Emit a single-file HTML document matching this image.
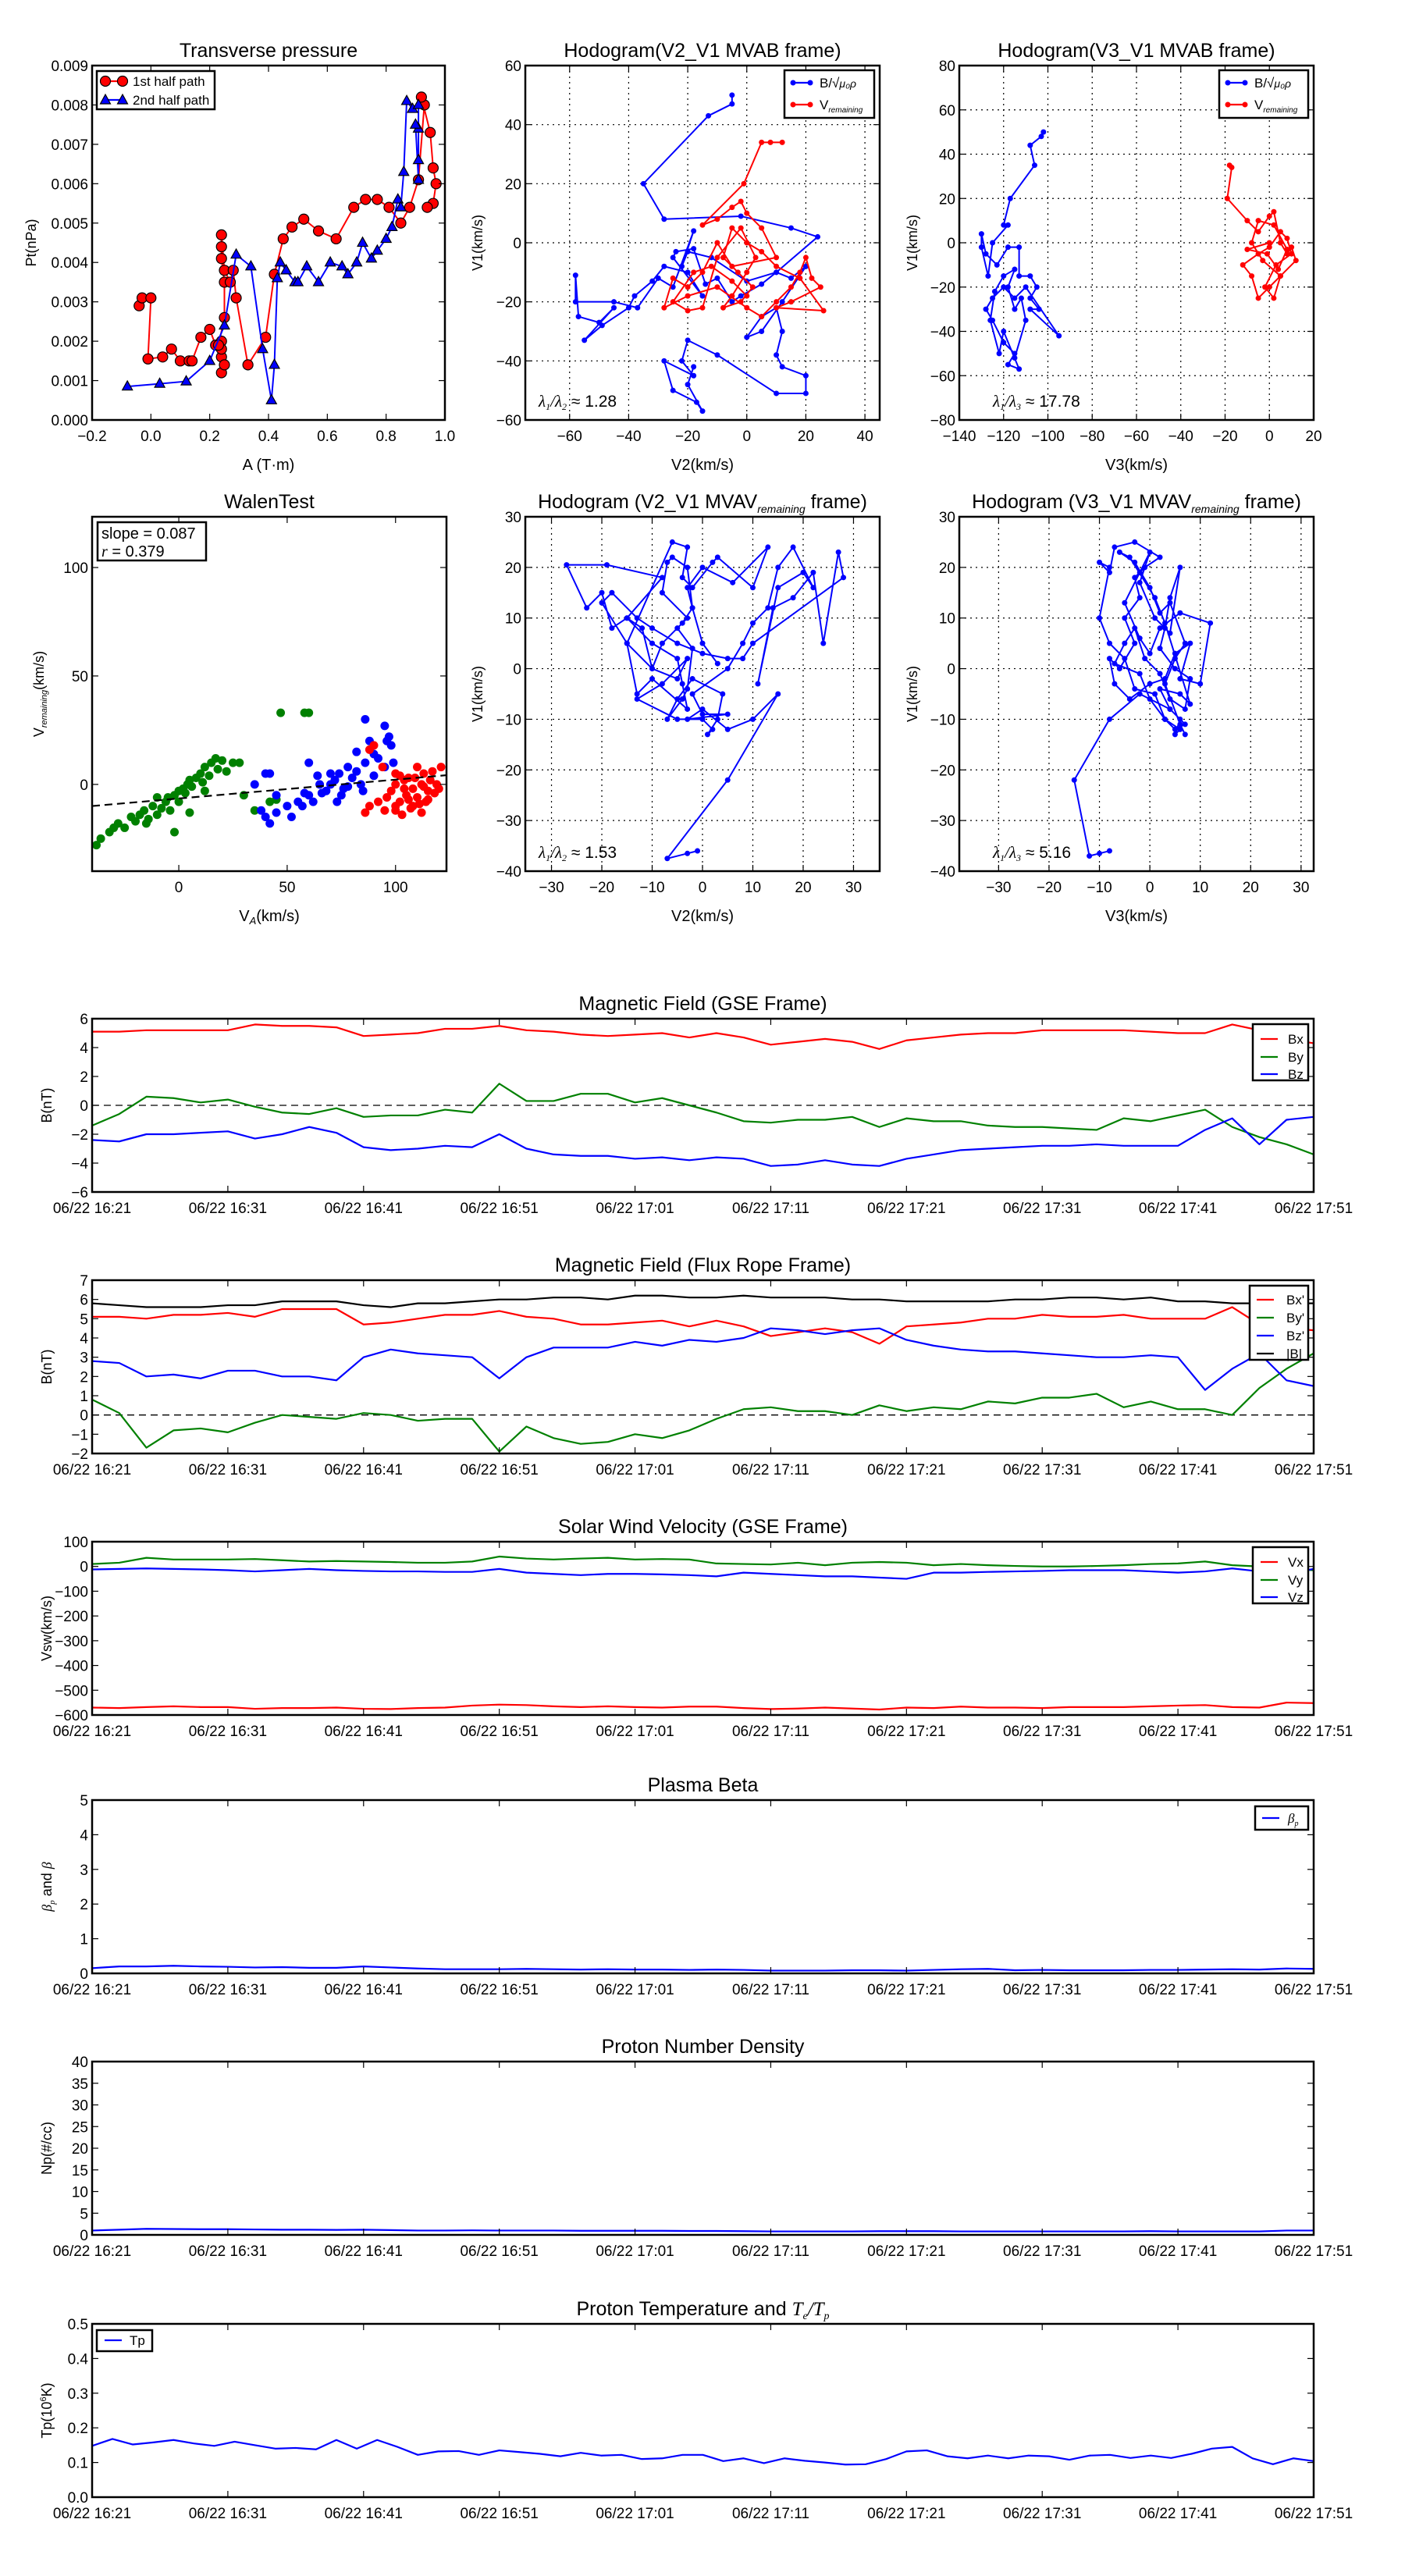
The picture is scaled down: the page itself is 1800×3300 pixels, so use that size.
<!DOCTYPE html>
<html><head><meta charset="utf-8">
<style>
html,body{margin:0;padding:0;background:#fff;}
svg{display:block;font-family:"Liberation Sans",sans-serif;}
text{fill:#000;}
</style></head>
<body>
<svg id="fig" width="1800" height="3300" viewBox="0 0 1800 3300" xmlns="http://www.w3.org/2000/svg">
<rect width="1800" height="3300" fill="#fff"/>
</svg>
<script>
// ---------- Transverse pressure ----------
const tp1A=[-0.04,-0.03,0.0,-0.01,0.04,0.07,0.1,0.13,0.14,0.17,0.2,0.22,0.24,0.24,0.24,0.25,0.24,0.23,0.25,0.25,0.24,0.24,0.24,0.25,0.27,0.28,0.29,0.33,0.39,0.42,0.45,0.48,0.52,0.57,0.63,0.69,0.73,0.77,0.81,0.85,0.88,0.91,0.93,0.92,0.95,0.96,0.97,0.96,0.94];
const tp1P=[0.0029,0.0031,0.0031,0.00155,0.0016,0.0018,0.0015,0.0015,0.0015,0.0021,0.0023,0.0019,0.0020,0.0016,0.0012,0.0014,0.0018,0.0019,0.0026,0.0035,0.0041,0.0044,0.0047,0.0038,0.0035,0.0038,0.0031,0.0014,0.0021,0.0037,0.0046,0.0049,0.0051,0.0048,0.0046,0.0054,0.0056,0.0056,0.0054,0.0050,0.0054,0.0061,0.0080,0.0082,0.0073,0.0064,0.0060,0.0055,0.0054];
const tp2A=[-0.08,0.03,0.12,0.2,0.25,0.29,0.34,0.38,0.41,0.42,0.43,0.44,0.46,0.49,0.5,0.53,0.57,0.61,0.65,0.67,0.70,0.72,0.75,0.77,0.80,0.82,0.84,0.85,0.86,0.87,0.89,0.91,0.91,0.91,0.91,0.9];
const tp2P=[0.00085,0.00092,0.00098,0.0015,0.0024,0.0042,0.0039,0.0018,0.0005,0.0014,0.0036,0.0040,0.0038,0.0035,0.0035,0.0039,0.0035,0.0040,0.0039,0.0037,0.0040,0.0045,0.0041,0.0043,0.0046,0.0049,0.0056,0.0054,0.0063,0.0081,0.0079,0.0080,0.0074,0.0066,0.0061,0.0075];
// ---------- Hodogram V2_V1 MVAB ----------
const h1bV2=[-5,-5,-13,-35,-28,-2,15,24,10,0,-12,-20,-22,-18,-25,-30,-37,-45,-58,-58,-57,-50,-45,-55,-49,-40,-38,-32,-28,-20,-15,-25,-24,-18,-14,-10,-5,-2,5,10,15,20,12,5,0,5,10,12,10,12,20,20,10,-10,-20,-22,-18,-28,-25,-17,-15,-20,-18];
const h1bV1=[50,47,43,20,8,9,5,2,-10,-13,-5,-3,-8,4,-15,-12,-22,-20,-20,-11,-25,-27,-22,-33,-28,-22,-18,-13,-8,-10,-18,-5,-3,-2,-14,-12,-20,-18,-14,-10,-12,-8,-20,-30,-32,-25,-22,-30,-38,-42,-45,-51,-51,-38,-33,-40,-45,-40,-50,-54,-57,-48,-42];
const h1rV2=[12,8,5,-1,-15,-10,-5,-2,0,5,10,-5,-10,-15,-20,-25,-28,-20,-10,0,5,10,15,18,20,22,25,15,10,26,18,10,5,0,-5,-8,-3,2,-2,-8,-5,0,3,-2,-10,-15,-20,-25,-18,-12,-5,0];
const h1rV1=[34,34,34,20,6,8,12,14,10,5,-5,-8,0,-10,-15,-12,-22,-18,-15,-22,-25,-20,-15,-10,-5,-12,-15,-20,-22,-23,-12,-8,-3,0,5,-5,-10,-15,-20,-22,-18,-10,-5,5,-5,-22,-23,-20,-10,-8,-13,-18];
// ---------- Hodogram V3_V1 MVAB ----------
const h2bV3=[-102,-103,-108,-106,-117,-120,-118,-125,-127,-130,-130,-128,-123,-118,-113,-113,-108,-105,-108,-104,-108,-95,-110,-115,-120,-125,-128,-125,-120,-115,-118,-113,-120,-122,-126,-124,-120,-115,-118,-115,-112,-110,-115];
const h2bV1=[50,48,44,35,20,8,8,0,-15,-2,4,-5,-10,-2,-2,-15,-15,-20,-25,-30,-30,-42,-20,-25,-20,-25,-30,-35,-45,-50,-55,-57,-40,-50,-35,-22,-15,-12,-20,-30,-25,-35,-52];
const h2rV3=[-18,-17,-19,-10,-5,0,2,5,8,10,12,5,0,-5,-8,-12,-5,0,5,8,10,3,-2,2,5,-3,-8,-5,2,8,4,-1,-10,0];
const h2rV1=[35,34,20,10,5,12,14,0,-5,-2,-8,-15,-20,-25,-15,-10,-5,-2,5,2,-5,-10,-20,-25,-15,-8,0,10,8,-3,-12,-5,-3,0];
// ---------- Walen test ----------
const wgVA=[-38,-36,-32,-30,-28,-25,-22,-20,-18,-16,-15,-14,-12,-10,-8,-6,-5,-4,-2,0,0,2,3,4,5,6,8,10,11,12,14,15,17,18,20,22,25,28,30,35,42,45,47,58,60,-2,5,12,-10];
const wgV=[-28,-25,-22,-20,-18,-20,-15,-17,-14,-12,-18,-16,-10,-14,-11,-8,-6,-12,-5,-3,-8,-2,-4,0,2,-1,3,5,1,8,4,10,12,7,11,6,10,10,-5,-12,-8,-7,33,33,33,-22,-13,-3,-6];
const wbVA=[35,40,42,45,38,40,42,45,50,52,55,57,60,62,58,65,68,70,72,74,75,76,78,80,82,84,85,86,88,90,92,95,96,98,99,86,95,97,70,66,73,78,60,64,82,90];
const wbV=[0,5,5,-5,-12,-15,-18,-13,-10,-15,-8,-10,-5,-8,-4,0,-3,0,2,5,-5,-2,8,3,6,0,-3,10,20,4,12,8,20,18,10,30,27,22,5,-4,-8,-1,10,4,15,14];
const wrVA=[86,88,92,95,96,98,100,100,102,103,104,105,106,108,108,110,110,112,113,114,115,116,118,119,120,121,100,104,106,109,111,113,115,117,102,90,88,94,100,107,112];
const wrV=[-13,-10,-8,-12,-6,-3,0,5,-8,-14,2,-5,3,-2,-10,8,-6,0,5,-8,-3,2,-4,0,-2,8,-10,-2,-7,3,-9,-1,-7,6,4,18,16,8,-12,-11,-13];
const walenSlope=0.087, walenIntercept=-6.5;
// ---------- Hodogram MVAV ----------
const h3V2=[-1,-3,-7,5,15,10,5,0,-3,5,0,-2,5,8,10,13,15,18,22,20,15,11,14,18,22,24,27,28,10,8,5,0,-5,-10,-13,-18,-20,-15,-10,-5,-3,-8,-13,-5,0,2,1,3,4,-2,-5,-7,-4,-3,-2,-5,-3,-8,-7,-6,-3,-2,-4,-8,-10,-12,-15,-18,-20,-23,-27,-19,-8,-15,-10,-5,-4,-3,-10,-13,-15,-6,-3,-4,-2,2,3,10,13,6,0,-3,-2,0,3];
const h3V1=[-36,-36.5,-37.5,-22,-5,-10,-12,-8,-10,-9,-9,-5,0,5,9,12,20,24,16,19,16,-3,12,14,19,5,23,18,5,2,2,3,5,8,10,15,13,5,0,-2,2,-3,-6,-10,-10,-12,-13,-10,-5,-2,-6,-10,-6,-4,4,8,10,15,21,22,20,12,9,5,0,8,10,8,15,12,20.5,20.5,18,10,5,2,-3,-8,-2,-5,5,25,24,18,16,21,22,16,24,17,20,16,12,5,1];
const h4V3=[-8,-10,-12,-15,-8,-2,4,6,5,6,3,1,-3,-5,-8,-10,-8,-10,-8,-7,-3,2,-1,-3,-2,-5,-3,-6,-8,-7,-4,0,3,5,8,6,10,12,6,2,0,-2,-5,-2,0,-2,1,4,6,4,3,2,5,8,7,4,2,-1,-3,-5,-7,-2,0,3,5,7,4,2,6,8,3,1,-4,-6,-3,0,2,4,7,5,3,6,7];
const h4V1=[-36,-36.5,-37,-22,-10,-5,-8,-10,-13,-12,-10,-5,-4,2,5,10,20,21,19,24,25,22,20,18,14,10,5,0,2,-3,-6,-3,-2,3,5,-2,-3,9,11,8,3,6,13,19,23,17,10,7,20,14,8,4,0,-2,-8,-6,-1,2,8,5,1,-1,-6,-10,-12,-11,-8,-4,-5,-7,9,14,22,23,21,16,11,13,5,2,-3,-11,-13];
// ---------- Time series (2-minute cadence, minutes after 16:21) ----------
const tsTicks=['06/22 16:21','06/22 16:31','06/22 16:41','06/22 16:51','06/22 17:01','06/22 17:11','06/22 17:21','06/22 17:31','06/22 17:41','06/22 17:51'];
const gseBx=[5.1,5.1,5.2,5.2,5.2,5.2,5.6,5.5,5.5,5.4,4.8,4.9,5.0,5.3,5.3,5.5,5.2,5.1,4.9,4.8,4.9,5.0,4.7,5.0,4.7,4.2,4.4,4.6,4.4,3.9,4.5,4.7,4.9,5.0,5.0,5.2,5.2,5.2,5.2,5.1,5.0,5.0,5.6,5.2,4.6,4.3];
const gseBy=[-1.4,-0.6,0.6,0.5,0.2,0.4,-0.1,-0.5,-0.6,-0.2,-0.8,-0.7,-0.7,-0.3,-0.5,1.5,0.3,0.3,0.8,0.8,0.2,0.5,0.0,-0.5,-1.1,-1.2,-1.0,-1.0,-0.8,-1.5,-0.9,-1.1,-1.1,-1.4,-1.5,-1.5,-1.6,-1.7,-0.9,-1.1,-0.7,-0.3,-1.5,-2.2,-2.7,-3.4];
const gseBz=[-2.4,-2.5,-2.0,-2.0,-1.9,-1.8,-2.3,-2.0,-1.5,-1.9,-2.9,-3.1,-3.0,-2.8,-2.9,-2.0,-3.0,-3.4,-3.5,-3.5,-3.7,-3.6,-3.8,-3.6,-3.7,-4.2,-4.1,-3.8,-4.1,-4.2,-3.7,-3.4,-3.1,-3.0,-2.9,-2.8,-2.8,-2.7,-2.8,-2.8,-2.8,-1.7,-0.9,-2.7,-1.0,-0.8];
const frBx=[5.1,5.1,5.0,5.2,5.2,5.3,5.1,5.5,5.5,5.5,4.7,4.8,5.0,5.2,5.2,5.4,5.1,5.0,4.7,4.7,4.8,4.9,4.6,4.9,4.6,4.1,4.3,4.5,4.3,3.7,4.6,4.7,4.8,5.0,5.0,5.2,5.1,5.1,5.2,5.0,5.0,5.0,5.6,4.7,4.5,4.4];
const frBy=[0.8,0.1,-1.7,-0.8,-0.7,-0.9,-0.4,0.0,-0.1,-0.2,0.1,0.0,-0.3,-0.2,-0.2,-1.9,-0.6,-1.2,-1.5,-1.4,-1.0,-1.2,-0.8,-0.2,0.3,0.4,0.2,0.2,0.0,0.5,0.2,0.4,0.3,0.7,0.6,0.9,0.9,1.1,0.4,0.7,0.3,0.3,0.0,1.4,2.4,3.2];
const frBz=[2.8,2.7,2.0,2.1,1.9,2.3,2.3,2.0,2.0,1.8,3.0,3.4,3.2,3.1,3.0,1.9,3.0,3.5,3.5,3.5,3.8,3.6,3.9,3.8,4.0,4.5,4.4,4.2,4.4,4.5,3.9,3.6,3.4,3.3,3.3,3.2,3.1,3.0,3.0,3.1,3.0,1.3,2.4,3.2,1.8,1.5];
const frBt=[5.8,5.7,5.6,5.6,5.6,5.7,5.7,5.9,5.9,5.9,5.7,5.6,5.8,5.8,5.9,6.0,6.0,6.1,6.1,6.0,6.2,6.2,6.1,6.1,6.2,6.1,6.1,6.1,6.0,6.0,5.9,5.9,5.9,5.9,6.0,6.0,6.1,6.1,6.0,6.1,5.9,5.9,5.8,5.8,5.8,5.8];
const vx=[-570,-572,-568,-565,-568,-568,-575,-572,-572,-570,-575,-576,-572,-570,-562,-558,-560,-565,-568,-565,-568,-570,-566,-566,-572,-576,-574,-570,-574,-578,-570,-572,-566,-570,-570,-572,-568,-568,-568,-565,-562,-560,-568,-570,-550,-552];
const vy=[10,15,35,28,28,28,30,25,20,22,20,18,15,15,20,40,32,28,32,35,28,30,28,12,10,8,15,5,15,18,15,5,10,5,2,0,0,2,5,10,12,20,5,0,-10,-15];
const vz=[-12,-10,-8,-10,-12,-15,-20,-15,-10,-15,-18,-20,-20,-22,-22,-10,-25,-30,-35,-30,-30,-32,-35,-40,-25,-30,-35,-40,-40,-45,-50,-25,-25,-22,-20,-18,-15,-15,-15,-20,-25,-20,-8,-20,-30,-10];
const betaP=[0.15,0.2,0.2,0.22,0.2,0.19,0.17,0.18,0.16,0.16,0.2,0.17,0.14,0.12,0.12,0.12,0.13,0.12,0.11,0.12,0.11,0.11,0.1,0.11,0.1,0.08,0.08,0.08,0.09,0.09,0.08,0.1,0.12,0.13,0.09,0.1,0.09,0.09,0.09,0.1,0.1,0.11,0.12,0.11,0.14,0.13];
const np=[1.0,1.2,1.4,1.35,1.3,1.3,1.25,1.2,1.2,1.15,1.2,1.1,1.0,1.0,1.05,1.0,1.0,1.0,0.95,0.95,0.95,0.95,0.9,0.9,0.85,0.8,0.8,0.8,0.8,0.85,0.85,0.85,0.8,0.8,0.8,0.8,0.8,0.8,0.8,0.85,0.8,0.8,0.8,0.8,1.0,1.0];
const tpK=[0.148,0.168,0.152,0.158,0.165,0.155,0.148,0.160,0.150,0.140,0.142,0.138,0.165,0.140,0.165,0.145,0.122,0.132,0.133,0.122,0.135,0.130,0.125,0.118,0.128,0.120,0.122,0.110,0.112,0.122,0.122,0.104,0.112,0.098,0.112,0.105,0.100,0.094,0.095,0.110,0.132,0.135,0.118,0.112,0.120,0.112,0.120,0.118,0.108,0.120,0.122,0.113,0.120,0.113,0.125,0.140,0.145,0.112,0.095,0.112,0.104];
</script>
<script>
const NS='http://www.w3.org/2000/svg';
const svg=document.getElementById('fig');
let clipId=0;
function el(tag,parent,name){
  const e=document.createElementNS(NS,tag);
  
  
  parent.appendChild(e);return e;
}
function at(e,o){for(const k in o)e.setAttribute(k,o[k]);return e;}
function txt(parent,name,x,y,s,size,anchor,extra){
  const t=el('text',parent,name);
  at(t,{x:x,y:y,'font-size':size,'text-anchor':anchor||'middle'});
  if(extra)at(t,extra);
  t.innerHTML=s;return t;
}
function fmt(v,d){const s=v.toFixed(d);return v<0?'\u2212'+s.slice(1):s;}
function axes(c){
  const g=el('g',svg,c.name);
  const sx=v=>c.x0+(v-c.xmin)/(c.xmax-c.xmin)*c.w;
  const sy=v=>c.y0+c.h-(v-c.ymin)/(c.ymax-c.ymin)*c.h;
  const id='clip'+(clipId++);
  const cp=el('clipPath',g,'plot-clip');at(cp,{id:id});
  at(el('rect',cp,'clip-rect'),{x:c.x0,y:c.y0,width:c.w,height:c.h});
  const grid=el('g',g,'grid');
  const data=el('g',g,'plot-area');at(data,{'clip-path':'url(#'+id+')'});
  const ticks=el('g',g,'ticks');
  c.xt.forEach((v,i)=>{
    const X=sx(v);
    if(c.grid&&X>c.x0+1&&X<c.x0+c.w-1) at(el('line',grid,'x-grid-line'),{x1:X,x2:X,y1:c.y0,y2:c.y0+c.h,stroke:'#000','stroke-width':1.2,'stroke-dasharray':'2,5'});
    at(el('line',ticks,'x-tick'),{x1:X,x2:X,y1:c.y0+c.h,y2:c.y0+c.h-8,stroke:'#000','stroke-width':1.2});
    at(el('line',ticks,'x-tick-top'),{x1:X,x2:X,y1:c.y0,y2:c.y0+8,stroke:'#000','stroke-width':1.2});
    txt(ticks,'x-tick-label',X,c.y0+c.h+27,c.xl?c.xl[i]:fmt(v,c.xd||0),19);
  });
  c.yt.forEach((v,i)=>{
    const Y=sy(v);
    if(c.grid&&Y>c.y0+1&&Y<c.y0+c.h-1) at(el('line',grid,'y-grid-line'),{x1:c.x0,x2:c.x0+c.w,y1:Y,y2:Y,stroke:'#000','stroke-width':1.2,'stroke-dasharray':'2,5'});
    at(el('line',ticks,'y-tick'),{x1:c.x0,x2:c.x0+8,y1:Y,y2:Y,stroke:'#000','stroke-width':1.2});
    at(el('line',ticks,'y-tick-right'),{x1:c.x0+c.w,x2:c.x0+c.w-8,y1:Y,y2:Y,stroke:'#000','stroke-width':1.2});
    txt(ticks,'y-tick-label',c.x0-5,Y+7,fmt(v,c.yd||0),19,'end');
  });
  const frame=el('rect',g,'axes-frame');
  at(frame,{x:c.x0,y:c.y0,width:c.w,height:c.h,fill:'none',stroke:'#000','stroke-width':2.5});
  txt(g,'chart-title',c.x0+c.w/2,c.y0-11,c.title,25);
  if(c.xlabel) txt(g,'x-axis-title',c.x0+c.w/2,c.y0+c.h+64,c.xlabel,20);
  if(c.ylabel){const yl=txt(g,'y-axis-title',0,0,c.ylabel,18);at(yl,{transform:'translate('+c.ylx+','+(c.y0+c.h/2)+') rotate(-90)'});}
  return {g,data,sx,sy,c};
}
function line(ax,xs,ys,color,name,w){
  const p=el('polyline',ax.data,name);
  at(p,{points:xs.map((x,i)=>ax.sx(x)+','+ax.sy(ys[i])).join(' '),fill:'none',stroke:color,'stroke-width':w||2.2,'stroke-linejoin':'round'});
  return p;
}
function dots(ax,xs,ys,color,name,r,edge){
  const g=el('g',ax.data,name);
  xs.forEach((x,i)=>{const c=el('circle',g,name+'-point');at(c,{cx:ax.sx(x),cy:ax.sy(ys[i]),r:r,fill:color,stroke:edge||color,'stroke-width':edge?1.2:0});});
}
function tris(ax,xs,ys,color,name,r){
  const g=el('g',ax.data,name);
  xs.forEach((x,i)=>{const X=ax.sx(x),Y=ax.sy(ys[i]);const t=el('polygon',g,name+'-point');at(t,{points:X+','+(Y-r*1.1)+' '+(X-r)+','+(Y+r*0.7)+' '+(X+r)+','+(Y+r*0.7),fill:color,stroke:'#000','stroke-width':1.2});});
}
function legendBox(parent,name,x,y,w,h){const g=el('g',parent,name);at(el('rect',g,'legend-frame'),{x:x,y:y,width:w,height:h,fill:'#fff',stroke:'#000','stroke-width':2.5});return g;}
function legLine(g,name,x,y,color,label,marker,tx){
  const e=el('g',g,name);
  at(el('line',e,'legend-line'),{x1:x,x2:x+22,y1:y,y2:y,stroke:color,'stroke-width':2.2});
  if(marker==='dot'){[x,x+22].forEach(m=>at(el('circle',e,'legend-marker'),{cx:m,cy:y,r:3.5,fill:color}));}
  if(marker==='big'){[x,x+22].forEach(m=>at(el('circle',e,'legend-marker'),{cx:m,cy:y,r:6.5,fill:color,stroke:'#000','stroke-width':1.2}));}
  if(marker==='tri'){[x,x+22].forEach(m=>at(el('polygon',e,'legend-marker'),{points:m+','+(y-7)+' '+(m-6.5)+','+(y+5)+' '+(m+6.5)+','+(y+5),fill:color,stroke:'#000','stroke-width':1.2}));}
  txt(e,'legend-label',tx||x+34,y+6,label,17,'start');
}
const R=(a,b,s)=>{const o=[];for(let v=a;v<=b+1e-9;v+=s)o.push(+v.toFixed(4));return o;};

// ===== Panel 1: Transverse pressure =====
let A=axes({name:'transverse-pressure-chart',x0:118,y0:84,w:452,h:454,xmin:-0.2,xmax:1.0,ymin:0,ymax:0.009,xt:R(-0.2,1.0,0.2),xd:1,yt:R(0,0.009,0.001),yd:3,title:'Transverse pressure',xlabel:'A (T·m)',ylabel:'Pt(nPa)',ylx:46});
line(A,tp1A,tp1P,'#f00','first-half-line',2);
dots(A,tp1A,tp1P,'#f00','first-half-markers',6.5,'#000');
line(A,tp2A,tp2P,'#00f','second-half-line',2);
tris(A,tp2A,tp2P,'#00f','second-half-markers',6.5);
let L=legendBox(A.g,'pressure-legend',124,91,151,49);
legLine(L,'legend-entry-1st',135,104,'#f00','1st half path','big',170);
legLine(L,'legend-entry-2nd',135,128,'#00f','2nd half path','tri',170);

// ===== Panel 2: Hodogram V2_V1 MVAB =====
A=axes({name:'hodogram-v2-v1-mvab',x0:673,y0:84,w:454,h:454,xmin:-75,xmax:45,ymin:-60,ymax:60,xt:R(-60,40,20),yt:R(-60,60,20),grid:true,title:'Hodogram(V2_V1 MVAB frame)',xlabel:'V2(km/s)',ylabel:'V1(km/s)',ylx:618});
line(A,h1bV2,h1bV1,'#00f','b-path-line',2);dots(A,h1bV2,h1bV1,'#00f','b-path-points',3.5);
line(A,h1rV2,h1rV1,'#f00','v-path-line',2);dots(A,h1rV2,h1rV1,'#f00','v-path-points',3.5);
txt(A.g,'eigen-ratio-label',690,521,'<tspan font-family="Liberation Serif" font-style="italic">λ<tspan font-size="12" dy="4">1</tspan><tspan dy="-4">/λ</tspan><tspan font-size="12" dy="4">2</tspan></tspan><tspan dy="-4"> ≈ 1.28</tspan>',21,'start');
L=legendBox(A.g,'hodogram-legend',1005,90,115,61);
legLine(L,'legend-entry-b',1016,106,'#00f','B/√<tspan font-style="italic" font-size="14">μ₀ρ</tspan>','dot',1050);
legLine(L,'legend-entry-v',1016,134,'#f00','V<tspan font-size="10" font-style="italic" dy="4">remaining</tspan>','dot',1050);

// ===== Panel 3: Hodogram V3_V1 MVAB =====
A=axes({name:'hodogram-v3-v1-mvab',x0:1229,y0:84,w:454,h:454,xmin:-140,xmax:20,ymin:-80,ymax:80,xt:R(-140,20,20),yt:R(-80,80,20),grid:true,title:'Hodogram(V3_V1 MVAB frame)',xlabel:'V3(km/s)',ylabel:'V1(km/s)',ylx:1175});
line(A,h2bV3,h2bV1,'#00f','b-path-line',2);dots(A,h2bV3,h2bV1,'#00f','b-path-points',3.5);
line(A,h2rV3,h2rV1,'#f00','v-path-line',2);dots(A,h2rV3,h2rV1,'#f00','v-path-points',3.5);
txt(A.g,'eigen-ratio-label',1272,521,'<tspan font-family="Liberation Serif" font-style="italic">λ<tspan font-size="12" dy="4">1</tspan><tspan dy="-4">/λ</tspan><tspan font-size="12" dy="4">3</tspan></tspan><tspan dy="-4"> ≈ 17.78</tspan>',21,'start');
L=legendBox(A.g,'hodogram-legend',1562,90,114,61);
legLine(L,'legend-entry-b',1573,106,'#00f','B/√<tspan font-style="italic" font-size="14">μ₀ρ</tspan>','dot',1607);
legLine(L,'legend-entry-v',1573,134,'#f00','V<tspan font-size="10" font-style="italic" dy="4">remaining</tspan>','dot',1607);

// ===== Panel 4: Walen test =====
A=axes({name:'walen-test-chart',x0:118,y0:662,w:454,h:454,xmin:-40,xmax:123.5,ymin:-40,ymax:123.4,xt:[0,50,100],yt:[0,50,100],title:'WalenTest',xlabel:'V<tspan font-size="13" font-style="italic" dy="4">A</tspan><tspan dy="-4">(km/s)</tspan>',ylabel:'V<tspan font-size="11" font-style="italic" dy="4">remaining</tspan><tspan dy="-4">(km/s)</tspan>',ylx:56});
dots(A,wgVA,wgV,'#008000','green-points',5.5);
dots(A,wbVA,wbV,'#00f','blue-points',5.5);
dots(A,wrVA,wrV,'#f00','red-points',5.5);
{const fx=[-40,123.5];const fy=fx.map(v=>walenIntercept+walenSlope*v);const f=line(A,fx,fy,'#000','walen-fit-line',2.2);at(f,{'stroke-dasharray':'10,6'});}
L=legendBox(A.g,'walen-stats-box',125,669,139,49);
txt(L,'slope-label',130,690,'slope = '+walenSlope.toFixed(3),20,'start');
txt(L,'r-label',130,713,'<tspan font-style="italic" font-family="Liberation Serif">r</tspan> = 0.379',20,'start');

// ===== Panel 5: Hodogram MVAV V2_V1 =====
A=axes({name:'hodogram-v2-v1-mvav',x0:673,y0:662,w:454,h:454,xmin:-35.2,xmax:35.2,ymin:-40,ymax:30,xt:R(-30,30,10),yt:R(-40,30,10),grid:true,title:'Hodogram (V2_V1 MVAV<tspan font-size="14" font-style="italic" dy="6">remaining</tspan><tspan dy="-6"> frame)</tspan>',xlabel:'V2(km/s)',ylabel:'V1(km/s)',ylx:618});
line(A,h3V2,h3V1,'#00f','path-line',2);dots(A,h3V2,h3V1,'#00f','path-points',3.5);
txt(A.g,'eigen-ratio-label',690,1099,'<tspan font-family="Liberation Serif" font-style="italic">λ<tspan font-size="12" dy="4">1</tspan><tspan dy="-4">/λ</tspan><tspan font-size="12" dy="4">2</tspan></tspan><tspan dy="-4"> ≈ 1.53</tspan>',21,'start');

// ===== Panel 6: Hodogram MVAV V3_V1 =====
A=axes({name:'hodogram-v3-v1-mvav',x0:1229,y0:662,w:454,h:454,xmin:-37.8,xmax:32.5,ymin:-40,ymax:30,xt:R(-30,30,10),yt:R(-40,30,10),grid:true,title:'Hodogram (V3_V1 MVAV<tspan font-size="14" font-style="italic" dy="6">remaining</tspan><tspan dy="-6"> frame)</tspan>',xlabel:'V3(km/s)',ylabel:'V1(km/s)',ylx:1175});
line(A,h4V3,h4V1,'#00f','path-line',2);dots(A,h4V3,h4V1,'#00f','path-points',3.5);
txt(A.g,'eigen-ratio-label',1272,1099,'<tspan font-family="Liberation Serif" font-style="italic">λ<tspan font-size="12" dy="4">1</tspan><tspan dy="-4">/λ</tspan><tspan font-size="12" dy="4">3</tspan></tspan><tspan dy="-4"> ≈ 5.16</tspan>',21,'start');

// ===== Time series =====
const tAxis=[0,10,20,30,40,50,60,70,80,90];
const tIdx=a=>a.map((_,i)=>i*90/(a.length-1));
function ts(name,y0,ymin,ymax,yt,yd,title,ylabel){
  return axes({name:name,x0:118,y0:y0,w:1565,h:222,xmin:0,xmax:90,ymin:ymin,ymax:ymax,xt:tAxis,xl:tsTicks,yt:yt,yd:yd,title:title,ylabel:ylabel,ylx:66});
}
function zero(ax){const z=line(ax,[0,90],[0,0],'#000','zero-line',1.3);at(z,{'stroke-dasharray':'9,6'});}
// GSE B
A=ts('magnetic-field-gse-chart',1305,-6,6,R(-6,6,2),0,'Magnetic Field (GSE Frame)','B(nT)');
zero(A);
line(A,tIdx(gseBx),gseBx,'#f00','bx-line');line(A,tIdx(gseBy),gseBy,'#008000','by-line');line(A,tIdx(gseBz),gseBz,'#00f','bz-line');
L=legendBox(A.g,'gse-legend',1605,1312,71,72);
legLine(L,'legend-entry-bx',1615,1331,'#f00','Bx','',1650);
legLine(L,'legend-entry-by',1615,1354,'#008000','By','',1650);
legLine(L,'legend-entry-bz',1615,1376,'#00f','Bz','',1650);
// Flux rope B
A=ts('magnetic-field-flux-rope-chart',1640,-2,7,R(-2,7,1),0,'Magnetic Field (Flux Rope Frame)','B(nT)');
zero(A);
line(A,tIdx(frBt),frBt,'#000','bt-line');line(A,tIdx(frBx),frBx,'#f00','bx-prime-line');line(A,tIdx(frBy),frBy,'#008000','by-prime-line');line(A,tIdx(frBz),frBz,'#00f','bz-prime-line');
L=legendBox(A.g,'flux-rope-legend',1601,1647,75,95);
legLine(L,'legend-entry-bx',1610,1665,'#f00',"Bx'",'',1648);
legLine(L,'legend-entry-by',1610,1688,'#008000',"By'",'',1648);
legLine(L,'legend-entry-bz',1610,1711,'#00f',"Bz'",'',1648);
legLine(L,'legend-entry-bt',1610,1734,'#000','|B|','',1648);
// Velocity
A=ts('solar-wind-velocity-chart',1975,-600,100,R(-600,100,100),0,'Solar Wind Velocity (GSE Frame)','Vsw(km/s)');
line(A,tIdx(vx),vx,'#f00','vx-line');line(A,tIdx(vy),vy,'#008000','vy-line');line(A,tIdx(vz),vz,'#00f','vz-line');
L=legendBox(A.g,'velocity-legend',1605,1982,71,72);
legLine(L,'legend-entry-vx',1615,2001,'#f00','Vx','',1650);
legLine(L,'legend-entry-vy',1615,2024,'#008000','Vy','',1650);
legLine(L,'legend-entry-vz',1615,2046,'#00f','Vz','',1650);
// Beta
A=ts('plasma-beta-chart',2306,0,5,R(0,5,1),0,'Plasma Beta','<tspan font-style="italic" font-family="Liberation Serif">β<tspan font-size="11" dy="4">p</tspan></tspan><tspan dy="-4"> and </tspan><tspan font-style="italic" font-family="Liberation Serif">β</tspan>');
line(A,tIdx(betaP),betaP,'#00f','beta-line');
L=legendBox(A.g,'beta-legend',1608,2314,68,30);
legLine(L,'legend-entry-beta',1617,2329,'#00f','<tspan font-style="italic" font-family="Liberation Serif">β<tspan font-size="10" dy="4">p</tspan></tspan>','',1650);
// Np
A=ts('proton-density-chart',2641,0,40,R(0,40,5),0,'Proton Number Density','Np(#/cc)');
line(A,tIdx(np),np,'#00f','np-line');
// Tp
A=ts('proton-temperature-chart',2977,0,0.5,R(0,0.5,0.1),1,'Proton Temperature and <tspan font-style="italic" font-family="Liberation Serif">T<tspan font-size="14" dy="5">e</tspan><tspan dy="-5">/T</tspan><tspan font-size="14" dy="5">p</tspan></tspan>','Tp(10<tspan font-size="11" dy="-7">6</tspan><tspan dy="7">K)</tspan>');
line(A,tIdx(tpK),tpK,'#00f','tp-line');
L=legendBox(A.g,'tp-legend',124,2985,71,27);
legLine(L,'legend-entry-tp',134,2998,'#00f','Tp','',166);
</script>
</body></html>
